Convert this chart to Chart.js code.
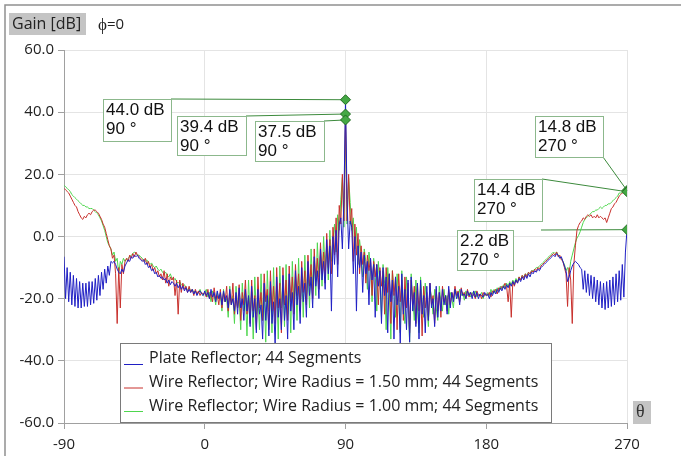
<!DOCTYPE html>
<html>
<head>
<meta charset="utf-8">
<script src="https://cdn.jsdelivr.net/npm/chart.js@4/dist/chart.umd.min.js"></script>
<style>
  html, body { margin: 0; padding: 0; background: #fff; }
  #wrap { width: 681px; height: 456px; position: relative; }
</style>
</head>
<body>
<div id="wrap"><canvas id="gainChart" width="681" height="456"></canvas></div>
<script>
// theta grid: -90 .. 270 deg, 1 deg step
const thetaStart = -90;
const thetaStep = 1;

const seriesNames = [
  'Plate Reflector; 44 Segments',
  'Wire Reflector; Wire Radius = 1.50 mm; 44 Segments',
  'Wire Reflector; Wire Radius = 1.00 mm; 44 Segments'
];

// gain [dB]
const plateGain = [
  -6.5, -20, -10, -21, -11.5, -22, -12.5, -22.5, -13.5, -23,
  -14.5, -23, -15, -22.5, -15, -22.5, -14.5, -22, -14.5, -21.5,
  -13.5, -20.5, -12.5, -19, -11.5, -17, -10.5, -15, -9.5, -12.5,
  -8, -8.5, -8, -9, -10.5, -11.5, -12, -10.5, -11.5, -9.5,
  -8.5, -7.5, -8, -6.5, -7, -6, -6.5, -6, -7, -7.5,
  -8, -7.5, -9, -8.5, -10, -9.5, -11, -10.5, -12, -11.5,
  -13, -12.5, -13.5, -13, -14, -13.5, -15, -14, -15.5, -14.5,
  -15, -16, -15, -16.5, -15.5, -17, -16, -17.5, -16.5, -18,
  -17, -18, -17, -18.5, -17.5, -19, -18, -17.5, -18.5, -19,
  -17.5, -19, -18, -20, -17, -19.5, -18, -21, -17.5, -20,
  -18, -22, -17.5, -21, -19, -23, -17, -22, -20, -24,
  -18, -25, -16.5, -23, -20, -27, -17, -24, -19, -29,
  -16, -26, -20, -31, -17, -25, -22, -33, -15, -27,
  -19, -32, -14.5, -28, -21, -35, -13, -26, -20, -30,
  -12.5, -27, -19, -33, -12, -24, -18, -30, -11, -22,
  -16, -28, -10, -21, -15, -26, -8, -19, -13, -23,
  -6.5, -16, -11, -20, -4, -14, -8, -17, -1, -12,
  -3, -24, 0, -9, 2, -13, 4, 6, -4, 12,
  44,
  12, -4, 5, 3, -12, 0, -24, -3, -10, -5,
  -18, -6, -12, -8, -22, -7, -14, -9, -26, -9,
  -16, -11, -28, -10, -19, -13, -31, -12, -21, -14,
  -33, -13, -22, -16, -35, -12, -25, -17, -30, -14,
  -34, -13, -24, -18, -29, -15, -33, -14, -25, -19,
  -31, -16, -27, -15, -23, -20, -29, -16, -26, -18,
  -24, -17, -22, -19, -25, -16, -23, -18, -21, -17,
  -20, -18, -22, -17, -19, -18.5, -20, -17.5, -19, -18,
  -20, -17.5, -19.5, -18, -20, -18.5, -19, -19.5, -18, -19,
  -18.5, -20, -18, -19, -17.5, -18.5, -17, -18, -16.5, -17.5,
  -16, -17, -15.5, -16.5, -15, -16, -14.5, -15.5, -14, -15,
  -13.5, -14.5, -13, -14, -12.5, -13.5, -12, -13, -11.5, -12,
  -11, -11.5, -10.5, -11, -10, -9.5, -9, -8.5, -8, -7.5,
  -7, -6.5, -6, -6.5, -5.5, -6, -7, -6.5, -8, -9.5,
  -11, -14.5, -13, -11, -9.5, -8.5, -8, -8.5, -9, -10,
  -10.5, -17, -11, -18, -12, -19, -12.5, -20, -13, -21,
  -14, -22, -14.5, -23, -15, -23.5, -14.5, -23, -14, -22.5,
  -13, -22, -12, -21, -11, -20.5, -9, -19.5, -5, 2.2
];

const wire150Gain = [
  15.5, 15, 14.5, 14, 13, 12, 11, 10, 9.5, 8,
  7, 6, 5.5, 6.5, 6, 7, 7.5, 7, 8, 8.5,
  8.5, 8, 7.5, 6.5, 5.5, 4, 3, 1, -1, -3,
  -4, -7, -6, -12, -28, -10, -23, -9, -12, -8,
  -7, -8, -6, -7, -5.5, -6.5, -5, -6, -6.5, -7,
  -7.5, -8, -7, -9, -8, -10, -9, -11, -10, -12,
  -11, -13, -12, -14, -11, -15, -12, -16, -13, -14,
  -13, -19, -14, -25, -14, -18, -15, -17, -16, -18,
  -16, -18, -17, -19, -17, -18.5, -17.5, -19, -18, -18.5,
  -18, -19.5, -17, -20, -18, -21, -16.5, -20, -19, -22,
  -17, -23, -18, -21, -16, -24, -18.5, -22, -15, -25,
  -19, -23, -15.5, -27, -18, -22, -14, -25, -20, -28,
  -14, -24, -19, -30, -13, -23, -18, -27, -12, -21,
  -17, -30, -11, -24, -16, -28, -10, -23, -15, -31,
  -10, -22, -14, -27, -9.5, -21, -13, -25, -9, -19,
  -12, -24, -8, -18, -11, -22, -6, -16, -9, -20,
  -4, -14, -7, -17, -2, -12, -5, -15, 1, -10,
  -1, -12, 3, -6, 6, -9, 10, 4, 20, 5,
  39.4,
  5, 20, 4, 9, -8, 4, -6, 1, -12, -3,
  -9, -5, -15, -6, -11, -7, -19, -8, -13, -9,
  -22, -10, -16, -11, -25, -10, -18, -12, -28, -11,
  -19, -13, -30, -12, -21, -14, -27, -13, -23, -15,
  -31, -14, -22, -16, -28, -15, -24, -17, -32, -16,
  -23, -18, -27, -15, -22, -19, -28, -17, -24, -18,
  -26, -16, -21, -19, -24, -17, -22, -18, -20, -16,
  -19, -17.5, -21, -16.5, -19, -18, -20, -17, -19.5, -18,
  -19, -18.5, -20, -17.5, -19, -18.5, -20, -18, -19, -18.5,
  -19, -18, -19.5, -17.5, -18, -17, -18.5, -16.5, -17, -16,
  -16.5, -15, -16, -21, -15, -26, -14.5, -16, -14, -15,
  -13, -14, -12.5, -13.5, -12, -13, -11.5, -12, -11, -11.5,
  -10.5, -11, -10, -10.5, -9.5, -9, -8.5, -8, -7.5, -7,
  -6.5, -6, -5.5, -6, -5, -6.5, -6, -7.5, -8, -10,
  -12, -22.5, -10, -14, -28, -9, -3, 2, 3.5, 4.5,
  5, 6, 5.5, 6.5, 7, 6.5, 7, 6, 6.5, 6,
  7, 6, 6.5, 6, 5.5, 6, 4.5, 6, 7.5, 9,
  9.5, 10.5, 11, 12, 13, 13.5, 14, 14.3, 14.2, 14.4
];

const wire100Gain = [
  16.5, 16, 15.5, 15, 14.5, 13.5, 13, 12.5, 12, 11.5,
  11, 10.5, 10, 10, 9.5, 9.5, 9, 9, 9, 8.5,
  8, 7.5, 7, 6, 5, 3.5, 2, 0, -2, -3,
  -4, -6, -5, -8, -7, -12, -8, -9, -7, -8,
  -7.5, -7, -6.5, -6, -5.5, -5, -5.5, -6, -6, -6.5,
  -7, -7.5, -8, -7.5, -8.5, -9, -8.5, -9.5, -10, -9.5,
  -10.5, -11, -10.5, -11.5, -12, -11.5, -12.5, -13, -12, -13.5,
  -14, -13.5, -14.5, -15, -14.5, -15.5, -16, -15.5, -16.5, -17,
  -16.5, -17.5, -17, -18, -17.5, -18.5, -18, -17, -18.5, -19,
  -18, -17, -19.5, -18, -21, -17.5, -19, -22, -18, -20,
  -19, -24, -17, -21, -20, -26, -16, -22, -19, -28,
  -16, -23, -20, -30, -15, -24, -19, -32, -14, -26,
  -18, -33, -13, -25, -19, -30, -12, -27, -17, -34,
  -11, -24, -18, -31, -10, -26, -16, -33, -9.5, -23,
  -15, -29, -9, -25, -14, -31, -8, -22, -13, -27,
  -7, -24, -12, -26, -6, -20, -10, -23, -4, -17,
  -8, -19, -2, -13, -6, -16, 0, -11, -3, -14,
  2, -8, -1, 4, -5, 7, 2, 12, 19, 3,
  37.5,
  4, 19, 11, 2, 6, -4, 3, -9, -1, -6,
  -13, -4, -8, -17, -5, -10, -21, -7, -12, -24,
  -8, -14, -26, -9, -15, -30, -10, -17, -33, -11,
  -18, -26, -12, -20, -31, -11, -22, -28, -13, -21,
  -34, -12, -20, -27, -14, -23, -31, -13, -21, -26,
  -15, -22, -29, -16, -20, -25, -17, -23, -27, -16,
  -21, -24, -17, -22, -19, -25, -18, -20, -23, -17,
  -18, -20, -17, -19, -18, -20.5, -17.5, -19, -18, -19.5,
  -18, -19, -17.5, -19.5, -18.5, -19, -18, -20, -18.5, -19,
  -18, -19, -17, -18.5, -17, -18, -16.5, -17.5, -16, -17,
  -15.5, -16.5, -15, -16, -14.5, -15.5, -14, -15, -13.5, -14.5,
  -13, -14, -12.5, -13, -12, -12.5, -11.5, -12, -11, -11,
  -10.5, -10, -10, -9.5, -9, -8.5, -8, -7.5, -7, -6.5,
  -6, -5.5, -5, -5.5, -5, -6, -6.5, -7, -8, -9,
  -11, -10, -12, -8, -6, -4, -2, -0.5, 0.3, 1.5,
  3, 4.5, 5.5, 6, 6.5, 7, 7.5, 8, 8, 8.5,
  8.5, 9, 9.5, 9, 9.5, 10, 10, 10.5, 10.5, 11,
  11.5, 12, 12.5, 13, 14, 14, 14.5, 14.5, 14.8, 14.8
];

// marked maxima
const peakTheta = [90, 90, 90, 270, 270, 270];
const peakGain = [44.0, 39.4, 37.5, 14.8, 14.4, 2.2];

const xTicks = [-90, 0, 90, 180, 270];
const yTicks = [-60, -40, -20, 0, 20, 40, 60];

// label box layout (px) and where each connector leaves its box
const boxLayout = [
  {x: 103, y: 99, w: 68, h: 42, ax: 171, ay: 99},
  {x: 177, y: 116, w: 69, h: 39, ax: 246, ay: 116},
  {x: 255, y: 121, w: 69, h: 40, ax: 324, ay: 121},
  {x: 535, y: 116, w: 68, h: 41, ax: 603, ay: 157},
  {x: 474, y: 179, w: 68, h: 42, ax: 542, ay: 179},
  {x: 457, y: 230, w: 56, h: 40, ax: 541, ay: 230}
];

const seriesColors = ['#1f1fc4', '#c8302c', '#4ed64e'];
const gridColor = '#e4e4e4';
const axisColor = '#a0a0a0';

function toPoints(values){
  return values.map((v, i) => ({x: thetaStart + i * thetaStep, y: v}));
}

const overlayPlugin = {
  id: 'overlay',
  beforeDatasetsDraw(chart){
    const {ctx, scales} = chart;
    ctx.save();
    peakGain.forEach((g, i) => {
      const b = boxLayout[i];
      const px = scales.x.getPixelForValue(peakTheta[i]);
      const py = scales.y.getPixelForValue(g);
      ctx.strokeStyle = '#3c8a3c';
      ctx.lineWidth = 1;
      ctx.beginPath();
      ctx.moveTo(b.ax, b.ay);
      ctx.lineTo(px, py);
      ctx.stroke();
    });
    peakGain.forEach((g, i) => {
      const b = boxLayout[i];
      ctx.fillStyle = '#fff';
      ctx.fillRect(b.x, b.y, b.w, b.h);
      ctx.strokeStyle = '#8cb88c';
      ctx.strokeRect(b.x + 0.5, b.y + 0.5, b.w, b.h);
      ctx.fillStyle = '#111';
      ctx.font = '17px "Liberation Sans", Arial, sans-serif';
      ctx.textBaseline = 'middle';
      ctx.textAlign = 'left';
      ctx.fillText(g.toFixed(1) + ' dB', b.x + 3, b.y + 11);
      ctx.fillText(peakTheta[i] + ' \u00b0', b.x + 3, b.y + 30);
    });
    ctx.restore();
  },
  afterDatasetsDraw(chart){
    const {ctx} = chart;
    ctx.save();
    // legend
    ctx.fillStyle = '#fff';
    ctx.fillRect(120, 343, 431, 79);
    ctx.strokeStyle = '#7a7a7a';
    ctx.lineWidth = 1;
    ctx.strokeRect(120.5, 343.5, 431, 79);
    ctx.font = '16px "Open Sans", sans-serif';
    ctx.textBaseline = 'middle';
    ctx.textAlign = 'left';
    seriesNames.forEach((name, i) => {
      const ly = 364.5 + i * 23.5;
      ctx.strokeStyle = seriesColors[i];
      ctx.beginPath();
      ctx.moveTo(124, ly);
      ctx.lineTo(143, ly);
      ctx.stroke();
      ctx.fillStyle = '#222';
      ctx.fillText(name, 149, 358 + i * 24);
    });
    ctx.restore();
  },
  afterDraw(chart){
    const {ctx} = chart;
    ctx.save();
    // frame
    ctx.strokeStyle = '#909090';
    ctx.lineWidth = 1.5;
    ctx.beginPath();
    ctx.moveTo(5, 456);
    ctx.lineTo(5, 5);
    ctx.lineTo(681, 5);
    ctx.stroke();
    // axis captions
    ctx.fillStyle = '#c4c4c4';
    ctx.fillRect(9, 13, 77, 22);
    ctx.fillRect(633, 401, 18, 23);
    ctx.fillStyle = '#222';
    ctx.textBaseline = 'middle';
    ctx.textAlign = 'left';
    ctx.font = '16px "Open Sans", sans-serif';
    ctx.fillText('Gain [dB]', 12, 24);
    ctx.font = '17px "Liberation Serif", serif';
    ctx.fillText('\u03d5', 98, 26);
    const w = ctx.measureText('\u03d5').width;
    ctx.font = '15px "Open Sans", sans-serif';
    ctx.fillText('=0', 98 + w, 25);
    ctx.font = '18px "Liberation Serif", serif';
    ctx.fillStyle = '#333';
    ctx.fillText('\u03b8', 636, 412);
    ctx.restore();
  }
};

const canvas = document.getElementById('gainChart');

new Chart(canvas, {
  type: 'line',
  data: {
    datasets: [
      {
        label: 'peaks',
        data: peakTheta.map((t, i) => ({x: t, y: peakGain[i]})),
        showLine: false,
        pointStyle: 'rectRot',
        pointRadius: 5,
        pointBackgroundColor: '#44a844',
        pointBorderColor: '#1f6b1f',
        pointBorderWidth: 1,
        order: 0
      },
      {
        label: seriesNames[0],
        data: toPoints(plateGain),
        borderColor: seriesColors[0],
        borderWidth: 1,
        pointRadius: 0,
        order: 1
      },
      {
        label: seriesNames[1],
        data: toPoints(wire150Gain),
        borderColor: seriesColors[1],
        borderWidth: 1,
        pointRadius: 0,
        order: 2
      },
      {
        label: seriesNames[2],
        data: toPoints(wire100Gain),
        borderColor: seriesColors[2],
        borderWidth: 1,
        pointRadius: 0,
        order: 3
      }
    ]
  },
  options: {
    responsive: false,
    animation: false,
    layout: {
      padding: {top: 50, right: 54, left: 0, bottom: 0}
    },
    plugins: {
      legend: {display: false},
      tooltip: {enabled: false}
    },
    scales: {
      x: {
        type: 'linear',
        min: -90,
        max: 270,
        afterBuildTicks: scale => { scale.ticks = xTicks.map(v => ({value: v})); },
        afterFit: scale => { scale.height = 33; },
        ticks: {
          color: '#222',
          font: {family: 'Open Sans', size: 15},
          padding: 7,
          maxRotation: 0
        },
        grid: {color: gridColor, tickColor: axisColor, tickLength: 6},
        border: {color: axisColor}
      },
      y: {
        min: -60,
        max: 60,
        afterBuildTicks: scale => { scale.ticks = yTicks.map(v => ({value: v})); },
        afterFit: scale => { scale.width = 64; },
        ticks: {
          color: '#222',
          font: {family: 'Open Sans', size: 15},
          padding: 4,
          callback: v => v.toFixed(1)
        },
        grid: {color: gridColor, tickColor: axisColor, tickLength: 6},
        border: {color: axisColor}
      }
    }
  },
  plugins: [overlayPlugin]
});
</script>
</body>
</html>
